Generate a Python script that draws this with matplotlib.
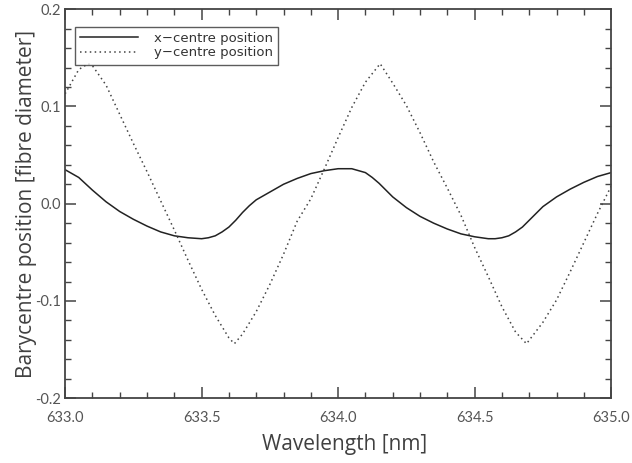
import matplotlib
matplotlib.use('Agg')
import matplotlib.pyplot as plt
from matplotlib.ticker import MultipleLocator, FuncFormatter

# wavelength grid [nm] and barycentre positions
wl_x = [633.00, 633.05, 633.10, 633.15, 633.20, 633.25, 633.30, 633.35, 633.40, 633.45,
        633.50, 633.525, 633.55, 633.575, 633.60, 633.625, 633.65, 633.675, 633.70, 633.75,
        633.80, 633.85, 633.90, 633.95, 634.00, 634.05, 634.10, 634.125, 634.15, 634.175,
        634.20, 634.25, 634.30, 634.35, 634.40, 634.45, 634.50, 634.55, 634.575, 634.60,
        634.625, 634.65, 634.675, 634.70, 634.725, 634.75, 634.80, 634.85, 634.90, 634.95,
        635.00]
x_centre = [0.035, 0.027, 0.014, 0.002, -0.008, -0.016, -0.023, -0.029, -0.033, -0.035,
            -0.036, -0.035, -0.033, -0.029, -0.024, -0.017, -0.009, -0.002, 0.004, 0.012,
            0.020, 0.026, 0.031, 0.034, 0.036, 0.036, 0.032, 0.027, 0.021, 0.014,
            0.007, -0.004, -0.013, -0.020, -0.026, -0.031, -0.034, -0.036, -0.036, -0.035,
            -0.033, -0.029, -0.024, -0.017, -0.010, -0.003, 0.007, 0.015, 0.022, 0.028,
            0.032]

wl_y = [633.00, 633.05, 633.084, 633.10, 633.15, 633.20, 633.25, 633.30, 633.35, 633.40,
        633.45, 633.50, 633.55, 633.60, 633.62, 633.65, 633.70, 633.75, 633.80, 633.85,
        633.90, 633.95, 634.00, 634.05, 634.10, 634.154, 634.20, 634.25, 634.30, 634.35,
        634.40, 634.45, 634.50, 634.55, 634.60, 634.65, 634.69, 634.75, 634.80, 634.85,
        634.90, 634.95, 635.00]
y_centre = [0.113, 0.138, 0.144, 0.142, 0.122, 0.092, 0.062, 0.033, 0.003, -0.027,
            -0.058, -0.088, -0.115, -0.138, -0.144, -0.134, -0.111, -0.083, -0.052, -0.018,
            0.005, 0.036, 0.068, 0.099, 0.125, 0.144, 0.124, 0.101, 0.073, 0.043,
            0.016, -0.012, -0.045, -0.075, -0.106, -0.132, -0.144, -0.122, -0.099, -0.070,
            -0.040, -0.010, 0.018]

fig = plt.figure(figsize=(6.32, 4.63), dpi=100)
ax = fig.add_axes([0.103, 0.140, 0.864, 0.840])

ax.plot(wl_x, x_centre, color='#222222', lw=1.1, label='x\u2212centre position')
ax.plot(wl_y, y_centre, color='#444444', lw=1.1, linestyle=(0, (1, 2.2)),
        label='y\u2212centre position')

ax.set_xlim(633.0, 635.0)
ax.set_ylim(-0.2, 0.2)
ax.xaxis.set_major_locator(MultipleLocator(0.5))
ax.xaxis.set_minor_locator(MultipleLocator(0.1))
ax.yaxis.set_major_locator(MultipleLocator(0.1))
ax.yaxis.set_minor_locator(MultipleLocator(0.02))
ax.xaxis.set_major_formatter(FuncFormatter(lambda v, p: '%.1f' % v))
ax.yaxis.set_major_formatter(FuncFormatter(lambda v, p: ('%.1f' % v).replace('-0.0', '0.0')))

ax.tick_params(which='both', direction='in', top=True, right=True,
               colors='#444444', labelcolor='#555555')
ax.tick_params(which='major', length=8, width=1.1, labelsize=10.5)
ax.tick_params(axis='x', which='major', pad=9)
ax.tick_params(axis='y', which='major', pad=3)
ax.tick_params(which='minor', length=4, width=1.0)
for lab in ax.get_xticklabels() + ax.get_yticklabels():
    lab.set_family('Lato')
for s in ax.spines.values():
    s.set_color('#444444')
    s.set_linewidth(1.3)

ax.set_xlabel('Wavelength [nm]', fontsize=15, family='Open Sans', color='#404040')
ax.set_ylabel('Barycentre position [fibre diameter]', fontsize=15, family='Open Sans',
              color='#404040')
ax.xaxis.set_label_coords(0.511, -0.092)
ax.yaxis.set_label_coords(-0.052, 0.5)

leg = ax.legend(loc='upper left', bbox_to_anchor=(0.01, 0.965), fontsize=9.5,
                frameon=True, fancybox=False, handlelength=4.4, handletextpad=1.2,
                borderpad=0.4, labelspacing=0.1, borderaxespad=0.3)
leg.get_frame().set_edgecolor('#333333')
leg.get_frame().set_linewidth(1.0)
for t in leg.get_texts():
    t.set_color('#333333')

fig.savefig('out.png', dpi=100)
